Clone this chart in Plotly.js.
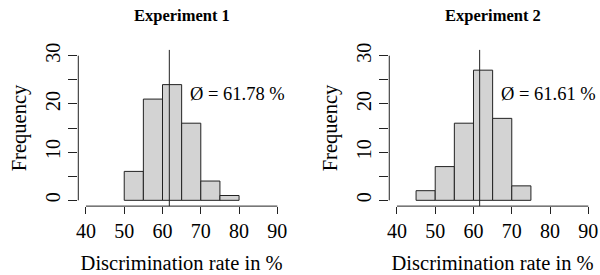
<!DOCTYPE html>
<html>
<head>
<meta charset="utf-8">
<script src="https://cdn.plot.ly/plotly-3.0.1.min.js"></script>
<style>html,body{margin:0;padding:0;background:#fff;}#chart{width:600px;height:275px;}</style>
</head>
<body>
<div id="chart"></div>
<script>
// Data
const titles = ["Experiment 1", "Experiment 2"];
const binStarts1 = [50, 55, 60, 65, 70, 75];
const counts1 = [6, 21, 24, 16, 4, 1];
const mean1 = 61.78;
const binStarts2 = [45, 50, 55, 60, 65, 70];
const counts2 = [2, 7, 16, 27, 17, 3];
const mean2 = 61.61;
const binWidth = 5;
const xTicks = [40, 50, 60, 70, 80, 90];
const yTicks = [0, 5, 10, 15, 20, 25, 30];
const yTickText = ["0", "", "10", "", "20", "", "30"];
const xLabel = "Discrimination rate in %";
const yLabel = "Frequency";

const serif = "Liberation Serif";
const lineCol = "#222";

function barTrace(xs, ys, ax) {
  return {
    type: "bar", x: xs, y: ys, width: binWidth, offset: 0,
    xaxis: "x" + ax, yaxis: "y" + ax,
    marker: {color: "#d3d3d3", line: {color: lineCol, width: 1}},
    hoverinfo: "skip", showlegend: false
  };
}
const data = [barTrace(binStarts1, counts1, ""), barTrace(binStarts2, counts2, "2")];

function xax(dom) {
  return {
    domain: dom, range: [38, 92], tickvals: xTicks, ticktext: xTicks.map(String),
    ticks: "outside", ticklen: 7, tickcolor: lineCol, tickwidth: 1,
    showline: false, showgrid: false, zeroline: false, automargin: false,
    tickfont: {family: serif, size: 20, color: "#000"},
    title: {text: xLabel, font: {family: serif, size: 20.5, color: "#000"}, standoff: 14}
  };
}
function yax(anchor) {
  return {
    domain: [0.2505, 0.8185], range: [-1.2, 31.2], anchor: anchor,
    tickvals: yTicks, ticktext: yTickText, tickangle: -90,
    ticks: "outside", ticklen: 9, tickcolor: lineCol, tickwidth: 1,
    showline: false, showgrid: false, zeroline: false, automargin: false,
    tickfont: {family: serif, size: 20, color: "#000"},
    title: {text: yLabel, font: {family: serif, size: 20.5, color: "#000"}, standoff: 10}
  };
}

const shapes = [];
const annotations = [];
[["", mean1], ["2", mean2]].forEach(([ax, m], i) => {
  const xr = "x" + ax, yr = "y" + ax;
  // axis lines from first to last tick (R style)
  shapes.push({type: "line", xref: xr + " domain", x0: 0, x1: 0, yref: yr,
    y0: yTicks[0], y1: yTicks[yTicks.length - 1], line: {color: lineCol, width: 1}});
  shapes.push({type: "line", yref: yr + " domain", y0: 0, y1: 0, xref: xr,
    x0: xTicks[0], x1: xTicks[xTicks.length - 1], line: {color: lineCol, width: 1}});
  // mean line
  shapes.push({type: "line", xref: xr, x0: m, x1: m, yref: yr + " domain", y0: 0, y1: 1,
    line: {color: lineCol, width: 1}});
  annotations.push({xref: xr, yref: yr, x: 79.5, y: 22, showarrow: false,
    text: "\u00D8 = " + m.toFixed(2) + " %", font: {family: serif, size: 18.5, color: "#000"}});
  annotations.push({xref: xr + " domain", yref: "paper", x: 0.5, y: 1 - 15.7 / 275, yanchor: "middle",
    showarrow: false, text: "<b>" + titles[i] + "</b>", font: {family: serif, size: 16.5, color: "#000"}});
});

const layout = {
  width: 600, height: 275,
  margin: {l: 0, r: 0, t: 0, b: 0},
  paper_bgcolor: "#fff", plot_bgcolor: "#fff",
  xaxis: xax([0.1305, 0.475]),
  yaxis: yax("x"),
  xaxis2: Object.assign(xax([0.6488, 0.9933]), {anchor: "y2"}),
  yaxis2: yax("x2"),
  shapes: shapes, annotations: annotations,
  bargap: 0, showlegend: false
};
layout.xaxis.anchor = "y";
Plotly.newPlot("chart", data, layout, {displayModeBar: false, staticPlot: true});
</script>
</body>
</html>
